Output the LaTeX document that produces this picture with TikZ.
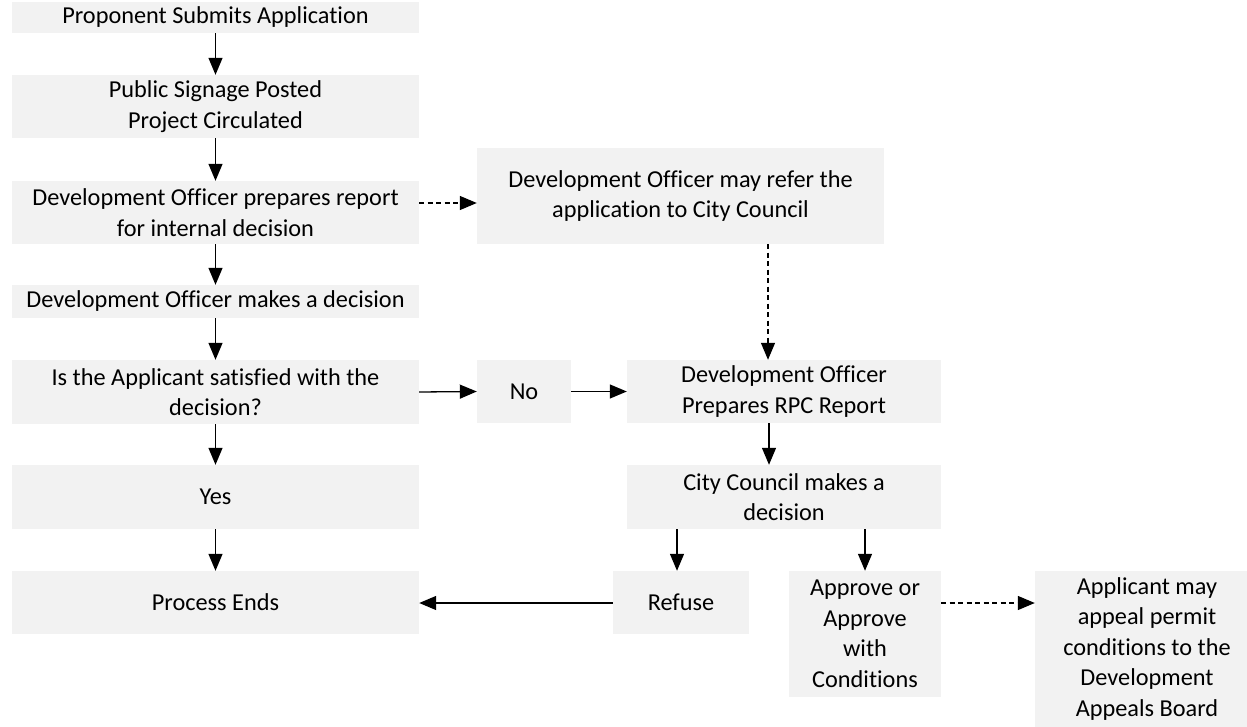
\documentclass[tikz,border=0pt]{standalone}
\usepackage{fontspec}
\setmainfont[Ligatures={NoCommon}]{Carlito}
\usetikzlibrary{arrows.meta}
\definecolor{boxgray}{HTML}{F2F2F2}
\tikzset{
  box/.style={fill=boxgray, draw=none, inner sep=0pt, align=center,
    font=\fontsize{24.3}{30.5}\selectfont},
  arr/.style={line width=1.3pt, -{Triangle[width=14pt,length=17pt]}},
  darr/.style={arr, dash pattern=on 5pt off 3.5pt},
}
\begin{document}
\begin{tikzpicture}[x=1pt,y=-1pt]
\useasboundingbox (0,0) rectangle (1247,727);
\clip (0,0) rectangle (1247,727);
\node[box, minimum width=407, minimum height=31] (b1) at (215.5,17.5) {Proponent Submits Application};
\node[box, minimum width=407, minimum height=63] (b2) at (215.5,106.5) {Public Signage Posted\\Project Circulated};
\node[box, minimum width=407, minimum height=63] (b3) at (215.5,212.5) {Development Officer prepares report\\for internal decision};
\node[box, minimum width=407, minimum height=96] (r) at (680.5,196) {Development Officer may refer the\\application to City Council};
\node[box, minimum width=407, minimum height=33] (b4) at (215.5,301.5) {Development Officer makes a decision};
\node[box, minimum width=407, minimum height=64] (b5) at (215.5,392) {Is the Applicant satisfied with the\\decision?};
\node[box, minimum width=94, minimum height=63] (no) at (524,391.5) {No};
\node[box, minimum width=314, minimum height=63] (dop) at (784,391.5) {Development Officer\\Prepares RPC Report};
\node[box, minimum width=314, minimum height=64] (cc) at (784,497) {City Council makes a\\decision};
\node[box, minimum width=407, minimum height=64] (yes) at (215.5,497) {Yes};
\node[box, minimum width=407, minimum height=63] (pe) at (215.5,602.5) {Process Ends};
\node[box, minimum width=136, minimum height=63] (ref) at (681,602.5) {Refuse};
\node[box, minimum width=152, minimum height=126] (app) at (865,634) {Approve or\\Approve\\with\\Conditions};
\node[box, minimum width=224, minimum height=156] (apl) at (1147,649) {Applicant may\\appeal permit\\conditions to the\\Development\\Appeals Board};
\coordinate (ya) at (0,203);
\coordinate (yb) at (0,603);
\coordinate (xa) at (768,0);
\coordinate (xb) at (769,0);
\coordinate (xc) at (677,0);
\draw[arr] (b1) -- (b2);
\draw[arr] (b2) -- (b3);
\draw[arr] (b3) -- (b4);
\draw[arr] (b4) -- (b5);
\draw[arr] (b5) -- (yes);
\draw[arr] (yes) -- (pe);
\draw[darr] (b3.east |- ya) -- (r.west |- ya);
\draw[darr] (r.south -| xa) -- (dop.north -| xa);
\draw[arr] (b5.east) -- (no.west);
\draw[arr] (no.east) -- (dop.west);
\draw[arr] (dop.south -| xb) -- (cc.north -| xb);
\draw[arr] (cc.south -| xc) -- (ref.north -| xc);
\draw[arr] (cc.south -| app.north) -- (app.north);
\draw[arr] (ref.west |- yb) -- (pe.east |- yb);
\draw[darr] (app.east |- yb) -- (apl.west |- yb);
\end{tikzpicture}
\end{document}
